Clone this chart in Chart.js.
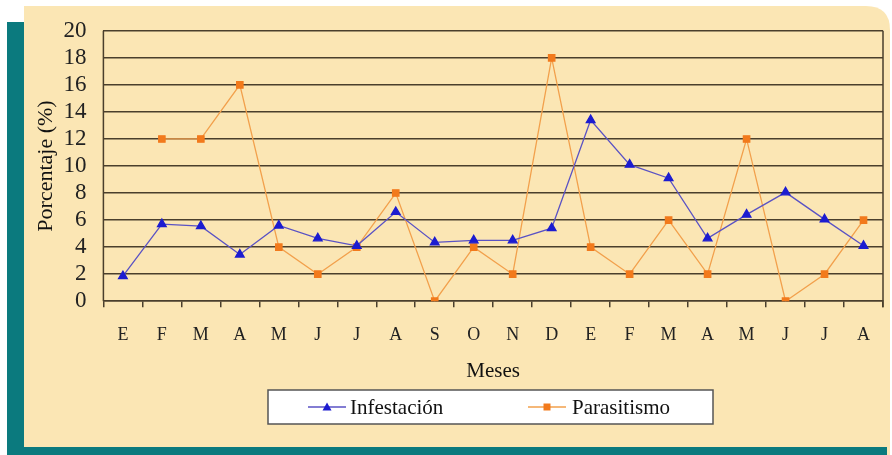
<!DOCTYPE html>
<html>
<head>
<meta charset="utf-8">
<script src="https://cdn.jsdelivr.net/npm/chart.js@4"></script>
<style>
  html, body { margin: 0; padding: 0; background: #ffffff; }
  #wrap { width: 892px; height: 455px; position: relative; }
</style>
</head>
<body>
<div id="wrap"><canvas id="grafico" width="892" height="455"></canvas></div>
<script>
const meses = ["E", "F", "M", "A", "M", "J", "J", "A", "S", "O", "N", "D",
               "E", "F", "M", "A", "M", "J", "J", "A"];
const infestacion = [1.85, 5.7, 5.55, 3.45, 5.6, 4.65, 4.1, 6.6, 4.35, 4.5, 4.5, 5.4,
                     13.4, 10.1, 9.1, 4.65, 6.4, 8.05, 6.05, 4.1];
const parasitismo = [null, 12, 12, 16, 4, 2, 4, 8, 0, 4, 2, 18,
                     4, 2, 6, 2, 12, 0, 2, 6];
const ticksY = [0, 2, 4, 6, 8, 10, 12, 14, 16, 18, 20];

const crema = "#fbe6b4";
const teal = "#0b7a7e";
const rejilla = "#4a3f2c";
const fuente = "'Liberation Serif', 'DejaVu Serif', serif";
const azulLinea = "#5a52c4", azulPunto = "#1c1cd0";
const naranjaLinea = "#f2a04c", naranjaPunto = "#f27a1c";

// ligne + marqueur pour la légende
function icono(ctx, x, y, colorLinea, colorPunto, forma) {
    ctx.strokeStyle = colorLinea;
    ctx.lineWidth = 1.3;
    ctx.beginPath(); ctx.moveTo(x, y); ctx.lineTo(x + 38, y); ctx.stroke();
    ctx.fillStyle = colorPunto;
    ctx.beginPath();
    if (forma === "tri") {
        ctx.moveTo(x + 19, y - 4.5); ctx.lineTo(x + 23.5, y + 3.5); ctx.lineTo(x + 14.5, y + 3.5);
    } else {
        ctx.rect(x + 15.5, y - 3.5, 7, 7);
    }
    ctx.closePath(); ctx.fill();
}

const fondo = {
    id: "fondo",
    beforeDraw(chart) {
        const ctx = chart.ctx;
        ctx.save();
        ctx.fillStyle = "#ffffff";
        ctx.fillRect(0, 0, chart.width, chart.height);
        ctx.fillStyle = crema;
        ctx.beginPath();
        ctx.moveTo(24, 6);
        ctx.lineTo(866, 6);
        ctx.quadraticCurveTo(890, 6, 890, 30);
        ctx.lineTo(890, 455);
        ctx.lineTo(24, 455);
        ctx.closePath();
        ctx.fill();
        ctx.fillStyle = teal;
        ctx.fillRect(7, 22, 17, 433);
        ctx.fillRect(7, 447, 880, 8);
        ctx.restore();
    },
    afterDraw(chart) {
        const a = chart.chartArea;
        const ctx = chart.ctx;
        ctx.save();
        ctx.strokeStyle = rejilla;
        ctx.lineWidth = 1.5;
        ctx.beginPath();
        ctx.moveTo(a.left, a.top); ctx.lineTo(a.left, a.bottom);
        ctx.moveTo(a.right, a.top); ctx.lineTo(a.right, a.bottom + 6);
        ctx.stroke();

        // leyenda
        ctx.fillStyle = "#ffffff";
        ctx.fillRect(268, 390, 445, 34);
        ctx.strokeStyle = "#555555";
        ctx.lineWidth = 1.5;
        ctx.strokeRect(268, 390, 445, 34);
        const nombres = chart.data.datasets.map(d => d.label);
        icono(ctx, 308, 407, azulLinea, azulPunto, "tri");
        icono(ctx, 528, 407, naranjaLinea, naranjaPunto, "sq");
        ctx.fillStyle = "#111111";
        ctx.font = "21px " + fuente;
        ctx.textBaseline = "middle";
        ctx.fillText(nombres[0], 350, 408);
        ctx.fillText(nombres[1], 572, 408);
        ctx.restore();
    }
};

new Chart(document.getElementById("grafico"), {
    type: "line",
    data: {
        labels: meses,
        datasets: [
            {
                label: "Infestación",
                data: infestacion,
                borderColor: azulLinea,
                borderWidth: 1.3,
                pointStyle: "triangle",
                pointRadius: 5,
                pointBackgroundColor: azulPunto,
                pointBorderColor: azulPunto,
                tension: 0
            },
            {
                label: "Parasitismo",
                data: parasitismo,
                borderColor: naranjaLinea,
                borderWidth: 1.3,
                pointStyle: "rect",
                pointRadius: 4.5,
                pointBackgroundColor: naranjaPunto,
                pointBorderColor: naranjaPunto,
                tension: 0
            }
        ]
    },
    options: {
        responsive: false,
        animation: false,
        layout: { padding: { left: 33, right: 9, top: 22, bottom: 71 } },
        plugins: {
            tooltip: { enabled: false },
            legend: { display: false }
        },
        scales: {
            x: {
                offset: true,
                grid: {
                    offset: true,
                    drawOnChartArea: false,
                    drawTicks: true,
                    tickLength: 6,
                    color: rejilla,
                    lineWidth: 1.5
                },
                border: { color: rejilla, width: 1.5 },
                ticks: {
                    color: "#222222",
                    padding: 17,
                    font: { family: fuente, size: 18 },
                    maxRotation: 0,
                    autoSkip: false
                },
                title: {
                    display: true,
                    text: "Meses",
                    color: "#111111",
                    font: { family: fuente, size: 21 },
                    padding: { top: -4, bottom: 0 }
                }
            },
            y: {
                min: 0,
                max: 20,
                afterBuildTicks(axis) {
                    axis.ticks = ticksY.map(v => ({ value: v }));
                },
                grid: {
                    drawTicks: false,
                    color: rejilla,
                    lineWidth: 1.5
                },
                border: { display: false },
                ticks: {
                    color: "#222222",
                    padding: 17,
                    autoSkip: false,
                    font: { family: fuente, size: 23 }
                },
                title: {
                    display: true,
                    text: "Porcentaje (%)",
                    color: "#111111",
                    font: { family: fuente, size: 22 },
                    padding: { top: 0, bottom: -13 }
                }
            }
        }
    },
    plugins: [fondo]
});
</script>
</body>
</html>
